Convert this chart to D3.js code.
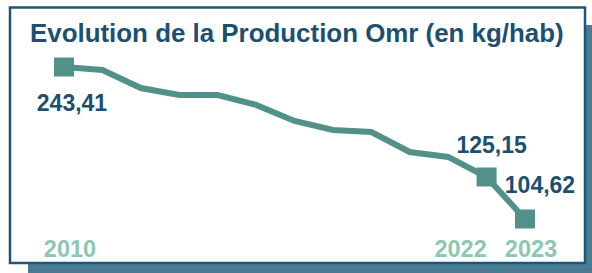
<!DOCTYPE html>
<html>
<head>
<meta charset="utf-8">
<script src="https://cdn.jsdelivr.net/npm/d3@7"></script>
<style>
  html, body { margin: 0; padding: 0; background: #fff; }
  svg { display: block; }
  text { font-family: "Liberation Sans", Arial, sans-serif; font-weight: bold; }
</style>
</head>
<body>
<div id="chart"></div>
<script>
'use strict';

// data (values in kg/hab)
const years = ['2010', '2012', '2013', '2014', '2015', '2016', '2017',
               '2018', '2019', '2020', '2021', '2022', '2023'];
const production = [243.41, 240.2, 220.8, 213.3, 213.3, 202.6, 185.4,
                     175.7, 173.5, 152.0, 146.7, 125.15, 104.62];
const markedYears = ['2010', '2022', '2023'];
const valueLabels = ['243,41', '125,15', '104,62'];
const title = 'Evolution de la Production Omr (en kg/hab)';

const WIDTH = 592, HEIGHT = 273;
const LINE_COLOR = '#52918a';
const DARK = '#1c4f70';

const svg = d3.select('#chart').append('svg')
    .attr('width', WIDTH)
    .attr('height', HEIGHT);

// frame + shadow
svg.append('rect')
    .attr('x', 28).attr('y', 25)
    .attr('width', 564).attr('height', 248)
    .attr('fill', '#4b7b94');

svg.append('rect')
    .attr('x', 10).attr('y', 7.5)
    .attr('width', 575).attr('height', 255.5)
    .attr('fill', '#fff')
    .attr('stroke', '#1f5678')
    .attr('stroke-width', 2.5);

// title: size the font so it spans the same width as the original
const titleText = svg.append('text')
    .attr('x', 30).attr('y', 42)
    .attr('font-size', 28)
    .attr('fill', DARK)
    .text(title);
const tw = titleText.node().getComputedTextLength();
titleText.attr('font-size', Math.min(30, 28 * 534 / tw));

const x = d3.scalePoint()
    .domain(years)
    .range([64, 525]);

// the original isn't drawn to a single linear scale, so use a polylinear one
const y = d3.scaleLinear()
    .domain([104.62, 125.15, 243.41])
    .range([219, 177, 67]);

const data = years.map((yr, i) => ({ year: yr, value: production[i] }));

const line = d3.line()
    .x(d => x(d.year))
    .y(d => y(d.value));

svg.append('path')
    .datum(data)
    .attr('d', line)
    .attr('fill', 'none')
    .attr('stroke', LINE_COLOR)
    .attr('stroke-width', 6)
    .attr('stroke-linejoin', 'miter');

const marked = data.filter(d => markedYears.includes(d.year));
const sq = 20;

svg.selectAll('.marker')
    .data(marked)
    .enter().append('rect')
    .attr('class', 'marker')
    .attr('x', d => x(d.year) - sq / 2)
    .attr('y', d => y(d.value) - 9.5)
    .attr('width', sq)
    .attr('height', 19)
    .attr('fill', LINE_COLOR);

// label offsets relative to the point
const labelDx = [8, 5, 15];
const labelDy = [44, -24, -26];

svg.selectAll('.val')
    .data(marked)
    .enter().append('text')
    .attr('class', 'val')
    .attr('x', (d, i) => x(d.year) + labelDx[i])
    .attr('y', (d, i) => y(d.value) + labelDy[i])
    .attr('text-anchor', 'middle')
    .attr('font-size', 23)
    .attr('fill', DARK)
    .text((d, i) => valueLabels[i]);

// x tick labels (only the marked years)
const tickDx = [6, -26, 6];

svg.selectAll('.tick-label')
    .data(markedYears)
    .enter().append('text')
    .attr('class', 'tick-label')
    .attr('x', (d, i) => x(d) + tickDx[i])
    .attr('y', 257)
    .attr('text-anchor', 'middle')
    .attr('font-size', 23.5)
    .attr('fill', '#8cc7b3')
    .text(d => d);
</script>
</body>
</html>
